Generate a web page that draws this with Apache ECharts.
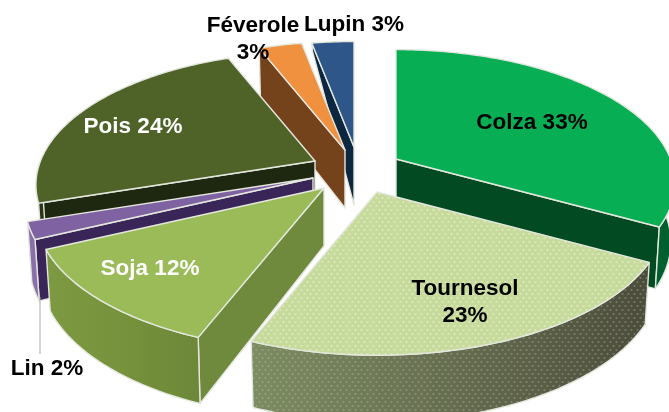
<!DOCTYPE html>
<html><head><meta charset="utf-8">
<style>html,body{margin:0;padding:0;background:#fff}#c{width:669px;height:412px}</style>
<script src="https://cdn.jsdelivr.net/npm/echarts@6/dist/echarts.min.js"></script>
</head><body><div id="c"></div>
<script>
const categories = ['Colza','Tournesol','Soja','Lin','Pois','Féverole','Lupin'];
const shares = [33,23,12,2,24,3,3];
const drawOrder = ['Lupin','Féverole','Pois','Lin','Colza','Soja','Tournesol'];

const RX=283, RY=133, PERSP=0.185, DEPTH=58, SHRINK=0.985;
const explode = {
  Colza:{ax:396,ay:159,r:.97}, Tournesol:{ax:377,ay:192,r:1}, Soja:{ax:324,ay:188,r:1},
  Lin:{ax:313,ay:178,r:1}, Pois:{ax:315,ay:161,r:.97}, 'Féverole':{ax:345,ay:150,r:.96},
  Lupin:{ax:354,ay:147,r:.93,farDepth:8}
};
const grad=(a,b,c)=>({type:'linear',x:0,y:0,x2:1,y2:0,colorStops:[{offset:0,color:a},{offset:.5,color:b},{offset:1,color:c}]});
const looks = {
  Colza:{top:'#07ae53',face:'#014a22',side:'#005f2e'},
  Tournesol:{top:'#c6da9c',face:'#5f6b4a',side:grad('#7d8c62','#666d50','#4b4c3b'),dots:true},
  Soja:{top:'#9bbb59',face:'#6f8a3c',side:grad('#7d9a42','#76923c','#6c8738')},
  Lin:{top:'#7f62a1',face:'#3a2558',side:'#8a70ab'},
  Pois:{top:'#4f6228',face:'#1e2810',side:'#2a3516'},
  'Féverole':{top:'#f0913f',face:'#74431c',side:'#74431c'},
  Lupin:{top:'#2f5688',face:'#0e2740',side:'#0e2740'}
};
const labelPos = {
  Colza:[532,123,'#000',['Colza 33%']], Tournesol:[465,302,'#000',['Tournesol','23%']],
  Soja:[150,269,'#fff',['Soja 12%']], Lin:[47,369,'#000',['Lin 2%']],
  Pois:[133,127,'#fff',['Pois 24%']], 'Féverole':[253,39,'#000',['Féverole','3%']],
  Lupin:[354,25,'#000',['Lupin 3%']]
};
const EDGE='#e4e7de';

function dotTile(bg,dot){
  const c=document.createElement('canvas');c.width=6;c.height=8;
  const g=c.getContext('2d');
  if(bg){g.fillStyle=bg;g.fillRect(0,0,6,8);}
  g.fillStyle=dot;
  [[1.5,2],[4.5,6]].forEach(p=>{g.beginPath();g.arc(p[0],p[1],1.1,0,7);g.fill();});
  return {image:c,repeat:'repeat'};
}
const topDots=dotTile('#c6da9c','#dfeabf');
const sideDots=dotTile(null,'rgba(200,210,180,0.33)');

const total=shares.reduce((a,b)=>a+b,0);
const ranges={};
let acc=0;
categories.forEach((n,i)=>{ranges[n]=[acc/total*360,(acc+shares[i])/total*360];acc+=shares[i];});

function proj(g,deg,r){
  const t=deg*Math.PI/180, X=r*Math.sin(t), Y=-r*Math.cos(t), w=1-PERSP*Y;
  return {x:g.ax+RX*X/w, y:g.ay+RY*Y/w, w};
}
const under=(g,p,d)=>[g.ax+(p.x-g.ax)*SHRINK, p.y+(d==null?DEPTH/Math.pow(p.w,0.7):d)];
function sweep(a,b){const o=[];const n=Math.max(2,Math.ceil((b-a)));for(let i=0;i<=n;i++)o.push(a+(b-a)*i/n);return o;}

function renderItem(params,api){
  const name=drawOrder[params.dataIndex], g=explode[name], s=looks[name], [a,b]=ranges[name];
  const z=(params.dataIndex+1)*10, kids=[];
  const poly=(pts,fill,k,lw)=>kids.push({type:'polygon',shape:{points:pts},z2:z+k,
    style:{fill,stroke:lw===0?null:EDGE,lineWidth:lw==null?1.4:lw,lineJoin:'round'}});
  const mid=proj(g,(a+b)/2,g.r);
  const face=(deg,k)=>{
    const e=proj(g,deg,g.r), dx=e.x-g.ax, dy=e.y-g.ay;
    if(Math.abs(dx)<1) return;
    const onLine=g.ay+dy/dx*(mid.x-g.ax);
    if(mid.y>=onLine) return;
    poly([[g.ax,g.ay],[e.x,e.y],under(g,e,g.farDepth),[g.ax,g.ay+DEPTH]],s.face,k);
  };
  face(a,1);face(b,1);
  const fa=Math.max(a,90), fb=Math.min(b,270);
  if(fb>fa){
    const top=sweep(fa,fb).map(d=>proj(g,d,g.r));
    const side=top.map(p=>[p.x,p.y]).concat(top.slice().reverse().map(p=>under(g,p)));
    poly(side,s.side,2);
    if(s.dots) poly(side,sideDots,3,0);
  }
  const pts=[[g.ax,g.ay]].concat(sweep(a,b).map(d=>{const p=proj(g,d,g.r);return [p.x,p.y];}));
  poly(pts,s.dots?topDots:s.top,5);
  return {type:'group',children:kids};
}

function renderLabel(params,api){
  const name=categories[params.dataIndex], L=labelPos[name], lines=L[3];
  const kids=[];
  lines.forEach((t,i)=>kids.push({type:'text',z2:500,style:{text:t,x:L[0],y:L[1]+(i-(lines.length-1)/2)*27,
    textAlign:'center',textVerticalAlign:'middle',fill:L[2],font:'bold 22.5px "Liberation Sans", Arial, sans-serif'}}));
  if(name==='Lin') kids.push({type:'line',z2:400,shape:{x1:40,y1:297,x2:40,y2:354},style:{stroke:'#a9a9a9',lineWidth:1}});
  return {type:'group',children:kids};
}

const chart=echarts.init(document.getElementById('c'),null,{renderer:'canvas'});
chart.setOption({animation:false,
  series:[
    {type:'custom',coordinateSystem:'none',silent:true,renderItem,data:drawOrder.map(n=>[shares[categories.indexOf(n)]])},
    {type:'custom',coordinateSystem:'none',silent:true,z:5,renderItem:renderLabel,data:categories.map((n,i)=>[shares[i]])}
  ]});
</script></body></html>
